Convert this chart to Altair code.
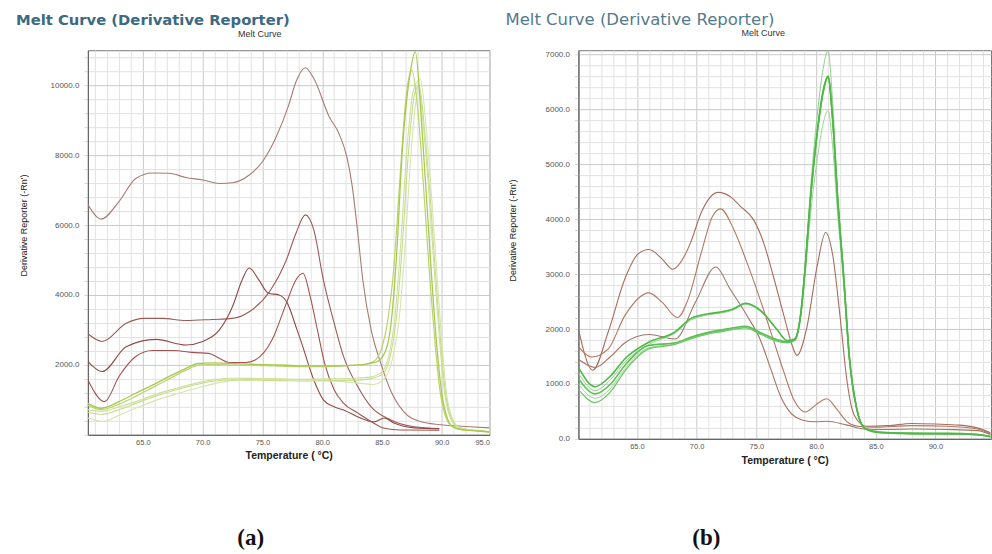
import altair as alt
import pandas as pd

# ---------------- Panel (a) data ----------------
A_B1_T = [60.4, 61.5, 63.0, 64.4, 65.8, 67.2, 68.6, 70.0, 71.4, 72.5, 73.9, 75.0, 76.1, 77.2, 77.8, 78.6, 79.3, 80.6, 81.4, 82.1, 82.5, 83.0, 83.4, 84.1, 84.9, 85.7, 86.8, 88.2, 89.9, 92.0, 94.0]
A_B1_V = [6590, 6170, 6670, 7330, 7490, 7480, 7360, 7290, 7190, 7210, 7430, 7810, 8480, 9430, 10090, 10500, 10190, 9090, 8620, 7900, 7140, 5700, 4430, 3000, 2050, 1290, 670, 380, 290, 240, 200]
A_B2_T = [60.4, 61.6, 63.6, 65.1, 66.6, 68.6, 70.8, 72.5, 73.9, 75.6, 77.0, 77.8, 78.6, 79.3, 80.1, 81.0, 81.8, 83.0, 84.1, 85.7, 87.7, 89.8]
A_B2_V = [2890, 2670, 3190, 3330, 3330, 3270, 3300, 3330, 3520, 4100, 5000, 5760, 6290, 5860, 4430, 3200, 2230, 1370, 800, 430, 230, 180]
A_B3_T = [60.4, 61.6, 63.6, 66.1, 68.6, 70.0, 71.4, 72.5, 73.3, 73.9, 74.7, 75.5, 76.4, 77.1, 77.8, 78.2, 79.3, 80.1, 81.0, 81.8, 83.0, 84.3, 85.2, 86.0, 87.7, 89.8]
A_B3_V = [2095, 1810, 2520, 2730, 2570, 2670, 3000, 3670, 4430, 4770, 4430, 4050, 4000, 3760, 3100, 2710, 1570, 1000, 800, 710, 510, 370, 480, 340, 200, 170]
A_B4_T = [60.4, 61.8, 63.0, 64.4, 65.8, 67.5, 69.4, 70.5, 71.4, 72.2, 73.6, 74.4, 75.8, 77.0, 77.8, 78.4, 79.0, 79.6, 80.2, 81.0, 81.8, 83.0, 84.1, 85.2, 86.6, 89.8]
A_B4_V = [1570, 950, 1670, 2240, 2410, 2410, 2350, 2330, 2190, 2070, 2070, 2140, 2710, 3760, 4430, 4620, 3950, 3000, 2050, 1290, 900, 620, 380, 190, 140, 130]

A_G1_T = [60.4, 61.5, 63.0, 64.4, 65.8, 67.2, 68.6, 69.6, 71.0, 73.0, 75.0, 77.0, 79.0, 81.0, 83.0, 84.5, 85.3, 85.8, 86.2, 86.7, 87.3, 87.8, 88.3, 88.8, 89.2, 89.6, 90.0, 90.5, 91.0, 91.8, 93.0, 94.0]
A_G1_V = [900, 760, 950, 1190, 1420, 1670, 1900, 2040, 2060, 2030, 2010, 1990, 1970, 1970, 2000, 2080, 2400, 3300, 5000, 8100, 10200, 10950, 9000, 6400, 4300, 2500, 1200, 450, 220, 140, 110, 80]
A_G2_T = [60.4, 61.5, 63.0, 64.4, 65.8, 67.2, 68.6, 69.8, 71.0, 73.0, 75.0, 77.0, 79.0, 81.0, 83.0, 84.3, 85.0, 85.5, 86.0, 86.5, 87.0, 87.5, 88.0, 88.5, 89.0, 89.4, 89.8, 90.3, 90.8, 91.6, 93.0, 94.0]
A_G2_V = [850, 720, 880, 1100, 1350, 1600, 1850, 2000, 2010, 1990, 1980, 1960, 1950, 1960, 1990, 2100, 2500, 3300, 4800, 7300, 9600, 10430, 9300, 7000, 4500, 2800, 1400, 550, 250, 150, 120, 90]
A_G3_T = [60.4, 61.6, 63.0, 64.4, 66.0, 67.8, 69.5, 71.0, 72.5, 74.5, 76.5, 78.5, 80.5, 82.5, 84.0, 85.0, 85.6, 86.1, 86.6, 87.1, 87.6, 88.0, 88.5, 89.0, 89.4, 89.8, 90.2, 90.7, 91.3, 92.2, 93.2, 94.0]
A_G3_V = [720, 670, 800, 950, 1150, 1330, 1480, 1580, 1620, 1610, 1600, 1590, 1600, 1620, 1650, 1800, 2300, 3400, 5600, 8200, 9800, 10100, 8700, 6600, 4600, 2800, 1300, 500, 230, 150, 120, 80]
A_G4_T = [60.4, 61.6, 63.0, 64.4, 66.0, 67.8, 69.5, 71.0, 72.5, 74.5, 76.5, 78.5, 80.5, 82.5, 84.0, 85.1, 85.7, 86.2, 86.7, 87.2, 87.7, 88.1, 88.6, 89.1, 89.5, 89.9, 90.3, 90.8, 91.4, 92.3, 93.3, 94.0]
A_G4_V = [640, 590, 720, 900, 1100, 1290, 1440, 1540, 1570, 1560, 1550, 1540, 1550, 1560, 1600, 1750, 2250, 3300, 5400, 8000, 9700, 10000, 8600, 6500, 4500, 2700, 1250, 480, 220, 150, 110, 80]
A_G5_T = [60.4, 61.7, 63.0, 64.6, 66.2, 68.0, 69.8, 71.5, 73.5, 75.5, 77.5, 79.5, 81.5, 83.0, 84.3, 85.3, 85.9, 86.4, 86.9, 87.4, 87.9, 88.2, 88.7, 89.2, 89.6, 90.0, 90.4, 90.9, 91.5, 92.4, 93.4, 94.0]
A_G5_V = [480, 380, 560, 790, 1000, 1190, 1360, 1500, 1580, 1590, 1580, 1560, 1530, 1480, 1440, 1650, 2200, 3200, 5200, 7900, 9700, 10200, 8800, 6600, 4600, 2700, 1200, 470, 210, 140, 110, 80]

# ---------------- Panel (b) data ----------------
B_BR1_T = [60.1, 61.3, 62.6, 64.0, 65.1, 66.0, 67.1, 68.0, 69.0, 69.5, 70.4, 71.8, 72.9, 73.6, 74.8, 75.6, 76.4, 77.3, 78.0, 78.4, 79.2, 80.1, 80.8, 81.4, 82.0, 82.6, 83.0, 83.5, 84.2, 86.0, 88.0, 90.0, 92.0, 93.5, 94.6]
B_BR1_V = [2000, 1250, 1950, 2920, 3370, 3450, 3280, 3090, 3340, 3580, 4130, 4490, 4400, 4250, 3980, 3580, 2980, 2250, 1700, 1520, 2000, 3160, 3760, 3340, 2250, 1040, 550, 330, 230, 240, 280, 270, 250, 200, 110]
B_BR2_T = [60.1, 61.2, 62.6, 64.0, 66.0, 67.1, 68.4, 69.3, 70.4, 71.3, 72.0, 73.1, 74.2, 75.3, 76.4, 77.3, 78.1, 79.1, 80.1, 80.9, 81.7, 82.6, 83.5, 85.0, 88.0, 91.0, 93.5, 94.6]
B_BR2_V = [1680, 1490, 1640, 2250, 2660, 2490, 2210, 2550, 3400, 4040, 4190, 3820, 3220, 2550, 1820, 1220, 730, 490, 640, 730, 550, 310, 230, 210, 240, 230, 180, 90]
B_BR3_T = [60.1, 61.5, 62.8, 64.0, 66.0, 68.2, 69.9, 71.6, 72.8, 74.2, 75.3, 76.2, 77.0, 77.8, 78.9, 80.0, 80.9, 82.6, 84.0, 86.0, 88.0, 91.0, 93.5, 94.6]
B_BR3_V = [1450, 1300, 1500, 1750, 1900, 1820, 2490, 3130, 2730, 2250, 1820, 1280, 790, 490, 340, 310, 320, 250, 180, 170, 180, 170, 150, 80]

B_G_T = [60.1, 61.5, 62.8, 64.0, 66.0, 68.2, 69.5, 71.0, 72.0, 73.0, 74.1, 75.4, 76.7, 77.6, 78.2, 78.7, 79.1, 79.5, 80.1, 80.6, 81.0, 81.4, 81.8, 82.3, 82.8, 83.4, 84.1, 85.3, 88.0, 91.0, 93.5, 94.6]
B_G1_V = [1300, 950, 1150, 1460, 1760, 1950, 2190, 2280, 2310, 2360, 2470, 2330, 2000, 1790, 1820, 2250, 3150, 4300, 5600, 6350, 6610, 5800, 4400, 2980, 1460, 550, 190, 120, 100, 100, 80, 40]
B_G2_V = [1200, 880, 1080, 1400, 1720, 1930, 2160, 2260, 2290, 2340, 2450, 2310, 1990, 1780, 1810, 2260, 3200, 4450, 5900, 6750, 7070, 6100, 4550, 3050, 1480, 560, 190, 120, 100, 100, 80, 40]
B_G3_V = [1100, 820, 1000, 1340, 1700, 1750, 1850, 1940, 1980, 2020, 2050, 1930, 1810, 1770, 1800, 2240, 3150, 4300, 5580, 6330, 6600, 5790, 4390, 2990, 1470, 560, 190, 120, 100, 90, 80, 40]
B_G4_V = [1000, 740, 920, 1280, 1660, 1730, 1830, 1920, 1960, 2000, 2030, 1910, 1790, 1760, 1790, 2200, 3000, 4000, 5100, 5750, 5980, 5300, 4100, 2850, 1400, 540, 190, 120, 90, 90, 70, 40]
B_G5_V = [900, 660, 860, 1240, 1640, 1720, 1820, 1910, 1950, 1990, 2020, 1900, 1780, 1750, 1790, 2230, 3130, 4280, 5560, 6300, 6580, 5770, 4380, 2970, 1450, 550, 180, 110, 90, 90, 70, 40]

A_CURVES = [
    ("a_b1", A_B1_T, A_B1_V, "#a87a74", 1.1),
    ("a_b2", A_B2_T, A_B2_V, "#9c5b56", 1.1),
    ("a_b3", A_B3_T, A_B3_V, "#8f4b47", 1.1),
    ("a_b4", A_B4_T, A_B4_V, "#a2524d", 1.1),
    ("a_g5", A_G5_T, A_G5_V, "#d6e5ae", 1.1),
    ("a_g4", A_G4_T, A_G4_V, "#c6dc8a", 1.1),
    ("a_g3", A_G3_T, A_G3_V, "#cde098", 1.1),
    ("a_g2", A_G2_T, A_G2_V, "#b9d46c", 1.2),
    ("a_g1", A_G1_T, A_G1_V, "#a8c94e", 1.3),
]
B_CURVES = [
    ("b_br1", B_BR1_T, B_BR1_V, "#a86c5c", 1.1),
    ("b_br2", B_BR2_T, B_BR2_V, "#b27862", 1.1),
    ("b_br3", B_BR3_T, B_BR3_V, "#a07668", 1.1),
    ("b_g4", B_G_T, B_G4_V, "#9ad696", 1.0),
    ("b_g2", B_G_T, B_G2_V, "#8fd18a", 1.0),
    ("b_g5", B_G_T, B_G5_V, "#6cc563", 1.2),
    ("b_g3", B_G_T, B_G3_V, "#5cbf52", 1.6),
    ("b_g1", B_G_T, B_G1_V, "#4fb748", 1.6),
]


def to_df(curves):
    rows = []
    for cid, ts, vs, col, w in curves:
        for t, v in zip(ts, vs):
            rows.append({"id": cid, "T": t, "V": v, "c": col, "w": w})
    return pd.DataFrame(rows)


GRID = {"condition": {"test": "datum.value % 5 === 0", "value": "#c9c9c9"}, "value": "#e2e2e2"}


def panel(curves, xdom, ydom, w, h, ystep, ylabstep, ylab_zero, xlab_expr,
          ytitle_x, ytitle_y, xtitle_y, title_x, title_y, title_size, title_weight,
          title_color, sub_x, sub_y, tag, tag_x, tag_y):
    df = to_df(curves)
    xvals = list(range(61, 95))
    yvals = list(range(0, int(ydom[1]) + 1, ystep))
    mod_test = "datum.value % " + str(ylabstep) + " === 0"
    ycond = mod_test if ylab_zero else mod_test + " && datum.value > 0"
    ygrid = {"condition": {"test": mod_test, "value": "#c9c9c9"}, "value": "#e2e2e2"}
    x_axis = alt.Axis(
        values=xvals, labelExpr=xlab_expr, labelOverlap=False, ticks=False,
        labelPadding=4, labelFont="Liberation Sans", labelFontSize=7.5, labelColor="#555",
        title="Temperature ( °C)", titleFont="Liberation Sans", titleFontSize=10.5,
        titleFontWeight="bold", titleColor="#222", titleY=xtitle_y, titleBaseline="middle",
        grid=True, gridColor=GRID, gridWidth=1, domainColor="#666", domainWidth=1.2,
    )
    y_axis = alt.Axis(
        values=yvals, labelExpr=ycond + " ? format(datum.value, '.1f') : ''",
        labelOverlap=False, ticks=True, tickSize=4, tickColor="#d6d6d6", labelPadding=5,
        labelFont="Liberation Sans", labelFontSize=8, labelColor="#555",
        title="Derivative Reporter (-Rn')", titleFont="Liberation Sans Narrow, Liberation Sans",
        titleFontSize=9, titleFontWeight="normal", titleColor="#222",
        titleX=ytitle_x, titleY=ytitle_y, titleBaseline="middle", titleAngle=-90,
        grid=True, gridColor=ygrid, gridWidth=1, domainColor="#666", domainWidth=1.2,
    )
    lines = alt.Chart(df).mark_line(interpolate="monotone", clip=True).encode(
        x=alt.X("T:Q", scale=alt.Scale(domain=xdom, nice=False, zero=False), axis=x_axis),
        y=alt.Y("V:Q", scale=alt.Scale(domain=ydom, nice=False, zero=False), axis=y_axis),
        color=alt.Color("c:N", scale=None),
        detail="id:N",
        size=alt.Size("w:Q", scale=None),
    )
    one = pd.DataFrame({"k": [0]})
    t_main = alt.Chart(one).mark_text(
        align="left", baseline="middle", font="DejaVu Sans", fontSize=title_size,
        fontWeight=title_weight, color=title_color,
    ).encode(x=alt.value(title_x), y=alt.value(title_y), text=alt.value("Melt Curve (Derivative Reporter)"))
    t_sub = alt.Chart(one).mark_text(
        align="center", baseline="middle", font="Liberation Sans", fontSize=9, color="#333",
    ).encode(x=alt.value(sub_x), y=alt.value(sub_y), text=alt.value("Melt Curve"))
    t_tag = alt.Chart(one).mark_text(
        align="center", baseline="middle", font="Liberation Serif", fontSize=23,
        fontWeight="bold", color="#111",
    ).encode(x=alt.value(tag_x), y=alt.value(tag_y), text=alt.value(tag))
    return alt.layer(lines, t_main, t_sub, t_tag).properties(width=w, height=h)


pa = panel(
    A_CURVES, [60.4, 94.0], [0, 11000], 402, 385, 400, 2000, False,
    "datum.value % 5 === 0 ? format(datum.value, '.1f') : (datum.value === 94 ? '95.0' : '')",
    -64, 175, 21, -72, -29, 14.8, "bold", "#3b6a82", 172, -16.5, "(a)", 163, 488,
)
pb = panel(
    B_CURVES, [60.1, 94.65], [0, 7080], 413, 389, 200, 1000, True,
    "datum.value % 5 === 0 ? format(datum.value, '.1f') : ''",
    -66, 180, 22, -73, -30, 16.5, "normal", "#557a8e", 185, -17, "(b)", 128, 488,
)

chart = alt.hconcat(pa, pb, spacing=14).properties(
    padding={"left": 15, "top": 11, "right": 0, "bottom": 0},
    background="white",
).configure_view(stroke="#777", strokeWidth=1)

chart.save("out.html", embed_options={"renderer": "svg", "actions": False})
